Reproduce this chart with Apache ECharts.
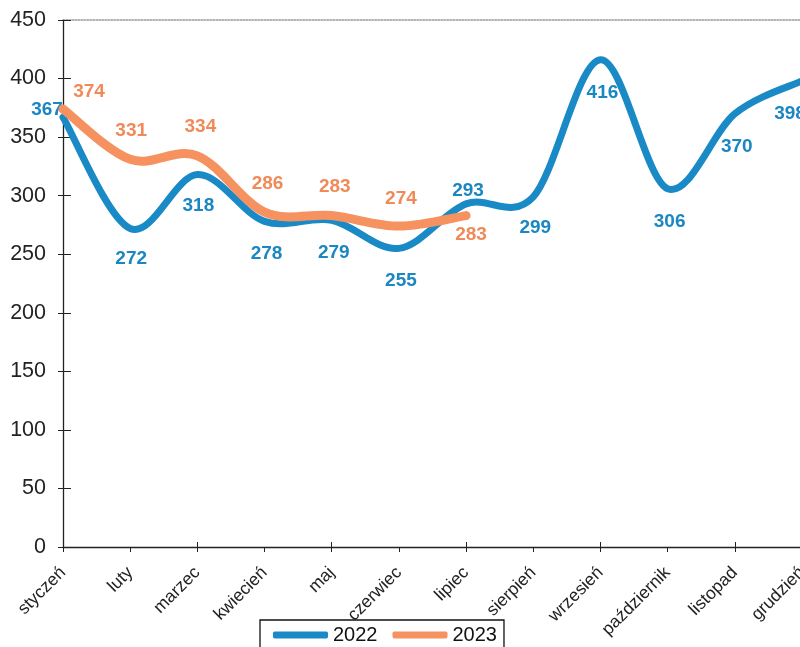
<!DOCTYPE html>
<html>
<head>
<meta charset="utf-8">
<script src="https://cdn.jsdelivr.net/npm/echarts@6/dist/echarts.min.js"></script>
<style>html,body{margin:0;padding:0;background:#fff}#c{width:800px;height:647px}</style>
</head>
<body>
<div id="c"></div>
<script>
const months = ['styczeń','luty','marzec','kwiecień','maj','czerwiec','lipiec','sierpień','wrzesień','październik','listopad','grudzień'];
const values2022 = [367, 272, 318, 278, 279, 255, 293, 299, 416, 306, 370, 398];
const values2023 = [374, 331, 334, 286, 283, 274, 283];
const yTicks = [0, 50, 100, 150, 200, 250, 300, 350, 400, 450];

const BLUE = '#1a8ac6';
const ORANGE = '#f5925f';
const FONT = '"Liberation Sans", Arial, sans-serif';

// label offsets in px (style only)
const off2022 = [[-16,-7],[1,30],[1,31],[2,32],[2,33],[2,32],[2,-13],[2,31],[2,33],[2,33],[2,33],[-12,33]];
const off2023 = [[26,-17],[1,-29],[3,-29],[3,-28],[3,-29],[2,-27],[5,19]];

// Excel-like smoothed line (Catmull-Rom Bezier) drawn through the axis scales
function makeRender(vals, offs, color, width, labelColor) {
  return function (params, api) {
    const i = params.dataIndex;
    const children = [];
    if (i === 0) {
      const pts = vals.map((v, k) => api.coord([k, v]));
      let d = 'M' + pts[0][0] + ',' + pts[0][1];
      for (let k = 0; k < pts.length - 1; k++) {
        const p0 = pts[Math.max(k - 1, 0)], p1 = pts[k], p2 = pts[k + 1], p3 = pts[Math.min(k + 2, pts.length - 1)];
        const c1 = [p1[0] + (p2[0] - p0[0]) / 6, p1[1] + (p2[1] - p0[1]) / 6];
        const c2 = [p2[0] - (p3[0] - p1[0]) / 6, p2[1] - (p3[1] - p1[1]) / 6];
        d += ' C' + c1[0] + ',' + c1[1] + ' ' + c2[0] + ',' + c2[1] + ' ' + p2[0] + ',' + p2[1];
      }
      children.push({
        type: 'path', shape: { pathData: d },
        style: { fill: 'none', stroke: color, lineWidth: width, lineCap: 'round', lineJoin: 'round' }
      });
    }
    const v = api.value(1);
    const p = api.coord([api.value(0), v]);
    children.push({
      type: 'text', x: p[0] + offs[i][0], y: p[1] + offs[i][1], z2: 10,
      style: { text: String(v), fill: labelColor, font: 'bold 19px ' + FONT, align: 'center', verticalAlign: 'middle' }
    });
    return { type: 'group', children: children };
  };
}

const chart = echarts.init(document.getElementById('c'), null, {renderer: 'canvas'});
const catBase = { type: 'category', data: months, boundaryGap: false };
chart.setOption({
  animation: false,
  backgroundColor: '#fff',
  grid: { left: 63, width: 739, top: 20, bottom: 100, containLabel: false, outerBoundsMode: 'none' },
  legend: {
    data: ['2022', '2023'],
    left: 260, top: 620,
    padding: [5, 7, 8, 13],
    itemGap: 15,
    itemWidth: 55, itemHeight: 7,
    icon: 'roundRect',
    borderColor: '#111', borderWidth: 1.3,
    textStyle: { fontFamily: FONT, fontSize: 20, color: '#111' }
  },
  xAxis: [
    Object.assign({}, catBase, {
      position: 'bottom',
      axisLine: { lineStyle: { color: '#222', width: 1.3 } },
      axisTick: { show: true, length: 5, alignWithLabel: true, lineStyle: { color: '#222' } },
      axisLabel: { rotate: 45, margin: 23, fontFamily: FONT, fontSize: 17.5, color: '#222' },
      splitLine: { show: false }
    }),
    Object.assign({}, catBase, {
      position: 'bottom',
      axisLine: { show: false },
      axisTick: { show: true, inside: true, length: 5, lineStyle: { color: '#222' } },
      axisLabel: { show: false },
      splitLine: { show: false }
    }),
    Object.assign({}, catBase, {
      position: 'top',
      axisLine: { show: true, lineStyle: { color: '#999', width: 1.5, type: 'dotted' } },
      axisTick: { show: false },
      axisLabel: { show: false },
      splitLine: { show: false }
    })
  ],
  yAxis: [
    {
      type: 'value', min: yTicks[0], max: yTicks[yTicks.length - 1], interval: yTicks[1] - yTicks[0],
      axisLine: { show: true, lineStyle: { color: '#222', width: 1.3 } },
      axisTick: { show: true, length: 5, lineStyle: { color: '#222' } },
      axisLabel: { margin: 17, fontFamily: FONT, fontSize: 21.5, color: '#222' },
      splitLine: { show: false }
    },
    {
      type: 'value', position: 'left', min: yTicks[0], max: yTicks[yTicks.length - 1], interval: yTicks[1] - yTicks[0],
      axisLine: { show: false },
      axisTick: { show: true, inside: true, length: 8, lineStyle: { color: '#222' } },
      axisLabel: { show: false },
      splitLine: { show: false }
    }
  ],
  series: [
    {
      name: '2022', type: 'custom',
      data: values2022.map((v, i) => [i, v]),
      encode: { x: 0, y: 1 },
      itemStyle: { color: BLUE },
      renderItem: makeRender(values2022, off2022, BLUE, 7, '#1a86c2'),
      clip: false,
      z: 2
    },
    {
      name: '2023', type: 'custom',
      data: values2023.map((v, i) => [i, v]),
      encode: { x: 0, y: 1 },
      itemStyle: { color: ORANGE },
      renderItem: makeRender(values2023, off2023, ORANGE, 9, '#f08a58'),
      clip: false,
      z: 3
    }
  ]
});
</script>
</body>
</html>
